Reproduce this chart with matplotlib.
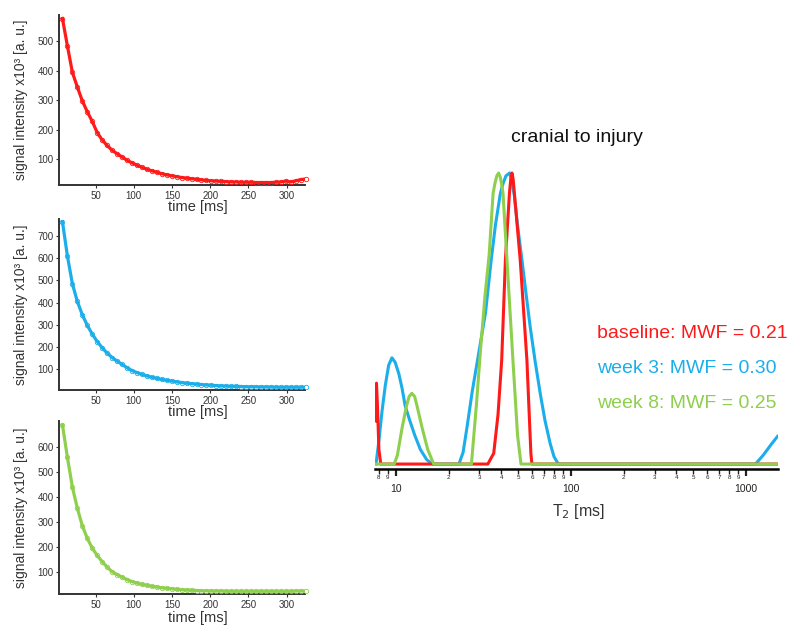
import matplotlib
matplotlib.use("Agg")
import matplotlib.pyplot as plt

plt.rcParams['font.family'] = ['Liberation Sans', 'DejaVu Sans']

# ---------------- data: decay curves (echo time in ms, signal x10^3) ----------------
echo_times = [6.5, 13, 19.5, 26, 32.5, 39, 45.5, 52, 58.5, 65,
              71.5, 78, 84.5, 91, 97.5, 104, 110.5, 117, 123.5, 130,
              136.5, 143, 149.5, 156, 162.5, 169, 175.5, 182, 188.5, 195,
              201.5, 208, 214.5, 221, 227.5, 234, 240.5, 247, 253.5, 260,
              266.5, 273, 279.5, 286, 292.5, 299, 305.5, 312, 318.5, 325]

signal_baseline = [578, 485, 395, 345, 298, 261, 228, 190, 165, 146,
                   130, 118, 107, 96, 87, 79, 72, 65, 60, 55,
                   50, 46, 43, 40, 37, 35, 33, 31, 29, 27,
                   26, 25, 24, 23, 22, 22, 21, 21, 21, 20,
                   20, 20, 20, 21, 22, 25, 22, 26, 30, 32]

signal_week3 = [765, 610, 485, 405, 345, 297, 258, 224, 196, 172,
                152, 136, 121, 106, 93, 84, 76, 69, 63, 58,
                53, 49, 46, 42, 39, 36, 34, 32, 30, 28,
                27, 25, 24, 23, 22, 22, 21, 20, 20, 20,
                19, 19, 19, 18, 18, 18, 18, 18, 18, 18]

signal_week8 = [690, 560, 440, 355, 285, 234, 195, 165, 140, 118,
                100, 88, 78, 68, 60, 54, 49, 45, 41, 38,
                35, 33, 31, 29, 27, 26, 25, 24, 23, 23,
                22, 22, 22, 21, 21, 21, 21, 21, 21, 21,
                21, 21, 21, 21, 21, 21, 21, 22, 22, 22]

time_ticks = [50, 100, 150, 200, 250, 300]
yticks_baseline = [100, 200, 300, 400, 500]
yticks_week3 = [100, 200, 300, 400, 500, 600, 700]
yticks_week8 = [100, 200, 300, 400, 500, 600]

# ---------------- data: T2 distributions (T2 in ms, normalised amplitude) ----------------
t2_baseline = [7.65, 7.75, 7.85, 8.0, 8.2, 33.5, 36.2, 38.3, 40.2, 42.2,
               44.5, 45.3, 46.0, 46.7, 47.5, 51.3, 56.0, 59.0, 59.8, 1510]
amp_baseline = [0.148, 0.278, 0.20, 0.05, 0.0, 0.0, 0.037, 0.17, 0.357, 0.70,
                0.93, 0.98, 1.0, 0.98, 0.93, 0.70, 0.357, 0.037, 0.0, 0.0]

t2_week3 = [7.70, 8.0, 8.33, 8.7, 9.1, 9.49, 9.9, 10.4, 10.85, 11.3,
            12.0, 12.8, 13.8, 15.0, 16.2, 22.9, 24.2, 25.5, 27.3, 29.5,
            32.5, 35.0, 37.0, 39.5, 41.0, 42.5, 44.6, 46.0, 47.5, 49.5,
            52.5, 55.5, 58.5, 62.5, 66.7, 71.0, 76.0, 80.0, 84.7, 1130,
            1250, 1400, 1510]
amp_week3 = [0.0, 0.08, 0.18, 0.27, 0.34, 0.365, 0.35, 0.31, 0.26, 0.20,
             0.15, 0.10, 0.05, 0.015, 0.0, 0.0, 0.04, 0.128, 0.25, 0.37,
             0.52, 0.70, 0.82, 0.93, 0.965, 0.99, 1.0, 0.975, 0.92, 0.82,
             0.70, 0.58, 0.47, 0.35, 0.243, 0.15, 0.071, 0.025, 0.0, 0.0,
             0.03, 0.07, 0.095]

t2_week8 = [7.65, 9.78, 10.2, 10.82, 11.5, 11.9, 12.33, 12.8, 13.2, 14.18,
            15.2, 16.44, 27.0, 28.8, 30.5, 32.3, 34.1, 35.9, 36.8, 37.7,
            38.6, 39.5, 40.2, 40.9, 43.1, 46.6, 49.5, 51.8, 1510]
amp_week8 = [0.0, 0.0, 0.03, 0.12, 0.20, 0.232, 0.243, 0.232, 0.20, 0.12,
             0.05, 0.0, 0.0, 0.2, 0.4, 0.58, 0.72, 0.93, 0.965, 0.99,
             1.0, 0.985, 0.96, 0.93, 0.70, 0.357, 0.1, 0.0, 0.0]

t2_major = [10, 100, 1000]
t2_major_labels = ['10', '100', '1000']
t2_minor = [8, 9, 20, 30, 40, 50, 60, 70, 80, 90,
            200, 300, 400, 500, 600, 700, 800, 900]
t2_minor_labels = ['8', '9', '2', '3', '4', '5', '6', '7', '8', '9',
                   '2', '3', '4', '5', '6', '7', '8', '9']

labels = ['baseline: MWF = 0.21', 'week 3: MWF = 0.30', 'week 8: MWF = 0.25']

RED = '#FF1A1A'
BLUE = '#1BAEEA'
GREEN = '#8FCF4E'

W, H = 800, 639
fig = plt.figure(figsize=(W / 100, H / 100), dpi=100)


def frac_rect(left, top, right, bottom):
    return [left / W, 1 - bottom / H, (right - left) / W, (bottom - top) / H]


# ---------------- left panels ----------------
panels = [
    (signal_baseline, RED, yticks_baseline, (11.6, 590), (59, 15, 305, 185), -0.088),
    (signal_week3, BLUE, yticks_week3, (5.4, 777), (59, 219, 305, 390), -0.088),
    (signal_week8, GREEN, yticks_week8, (10, 706), (59, 421, 305, 594), -0.10),
]
for sig, col, yt, ylim, rect, xl_y in panels:
    ax = fig.add_axes(frac_rect(*rect))
    ax.patch.set_alpha(0)
    ax.plot(echo_times, sig, color=col, lw=2.3, zorder=2)
    ax.plot(echo_times, sig, ls='none', marker='o', ms=3.2, mfc='none',
            mec=col, mew=0.6, zorder=3, clip_on=False)
    ax.set_xlim(2, 324)
    ax.set_ylim(*ylim)
    ax.set_xticks(time_ticks)
    ax.set_yticks(yt)
    for s in ['top', 'right']:
        ax.spines[s].set_visible(False)
    for s in ['left', 'bottom']:
        ax.spines[s].set_linewidth(1.4)
        ax.spines[s].set_color('#333333')
    ax.tick_params(direction='out', length=2.5, width=0.8, labelsize=7,
                   pad=1.5, colors='#333333', labelcolor='#333333')
    ax.set_xlabel('time [ms]', fontsize=10.5, color='#333333')
    ax.xaxis.set_label_coords(0.564, xl_y)
    ax.set_ylabel('signal intensity x10³ [a. u.]', fontsize=10, color='#333333')
    ax.yaxis.set_label_coords(-0.124, 0.5)

# ---------------- right panel ----------------
axr = fig.add_axes(frac_rect(375, 166, 778, 469))
axr.patch.set_alpha(0)
axr.plot(t2_week3, amp_week3, color=BLUE, lw=2.2, zorder=2)
axr.plot(t2_baseline, amp_baseline, color=RED, lw=2.2, zorder=3)
axr.plot(t2_week8, amp_week8, color=GREEN, lw=2.2, zorder=4)
axr.set_xscale('log')
axr.set_xlim(7.6, 1520)
axr.set_ylim(-0.017, 1.024)
for s in ['top', 'right', 'left']:
    axr.spines[s].set_visible(False)
axr.spines['bottom'].set_linewidth(1.8)
axr.set_yticks([])
axr.set_xticks(t2_major)
axr.set_xticklabels(t2_major_labels)
axr.set_xticks(t2_minor, minor=True)
axr.set_xticklabels(t2_minor_labels, minor=True)
axr.tick_params(axis='x', which='major', direction='out', length=5, width=1.6,
                pad=6, labelsize=7.5, colors='#222222')
axr.tick_params(axis='x', which='minor', direction='out', length=3.5, width=1.0,
                pad=1, labelsize=4.5, colors='#222222')
axr.set_xlabel('T$_2$ [ms]', fontsize=11.5, color='#333333')
axr.xaxis.set_label_coords(0.504, -0.109)

fig.text(576.7 / W, 1 - 141.7 / H, 'cranial to injury', fontsize=14,
         ha='center', va='baseline', color='#111111')
for lab, col, yb in zip(labels, [RED, BLUE, GREEN], [338.3, 373.3, 408.3]):
    fig.text(596.7 / W, 1 - yb / H, lab, fontsize=14, color=col,
             ha='left', va='baseline')

fig.savefig('out.png', dpi=100)
